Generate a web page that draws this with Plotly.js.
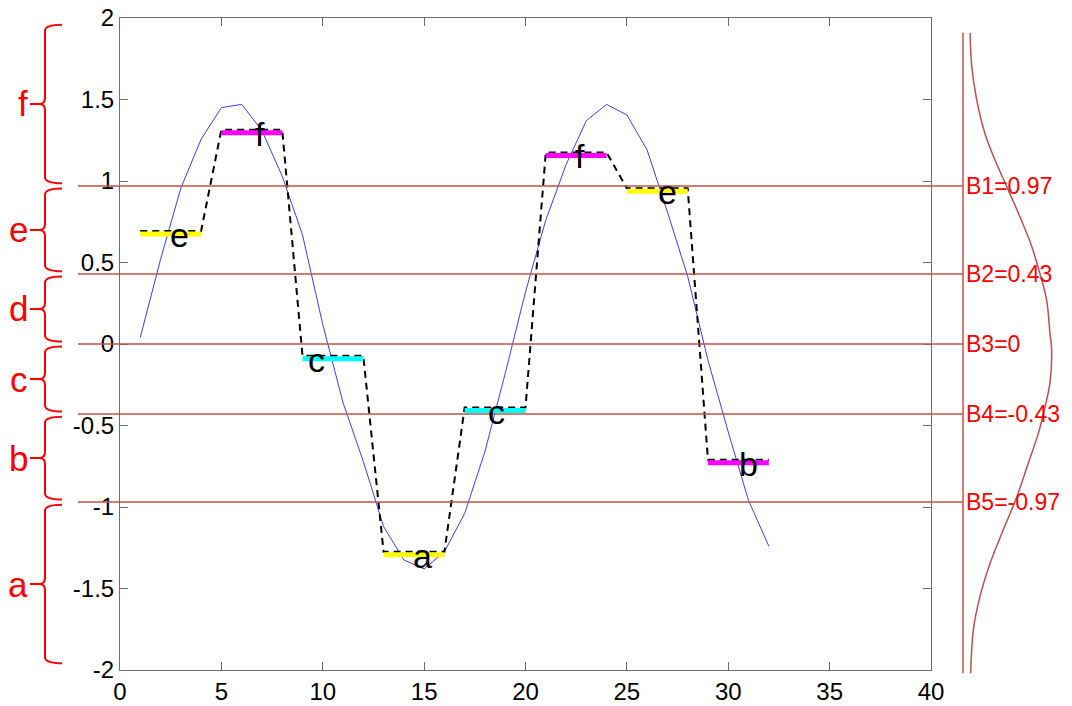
<!DOCTYPE html>
<html>
<head>
<meta charset="utf-8">
<script src="https://cdn.plot.ly/plotly-3.0.1.min.js"></script>
<style>
  html, body { margin: 0; padding: 0; background: #ffffff; }
  #chart { width: 1072px; height: 706px; }
</style>
</head>
<body>
<div id="chart"></div>
<script>
// Time series and its SAX discretisation (segment length 4, alphabet size 6)
const timeIndex = [1, 2, 3, 4, 5, 6, 7, 8, 9, 10, 11, 12, 13, 14, 15, 16,
                   17, 18, 19, 20, 21, 22, 23, 24, 25, 26, 27, 28, 29, 30, 31, 32];
const seriesValues = [0.04, 0.52, 0.956, 1.256, 1.45, 1.47, 1.31, 1.03,
                      0.67, 0.12, -0.36, -0.72, -1.12, -1.325, -1.38, -1.274,
                      -1.04, -0.66, -0.18, 0.32, 0.76, 1.10, 1.37, 1.47,
                      1.405, 1.19, 0.81, 0.415, -0.10, -0.54, -0.96, -1.24];
const paaValues = [0.693, 1.315, -0.0725, -1.275, -0.39, 1.175, 0.955, -0.71];
const segmentLength = 4;
const breakpoints = [0.97, 0.43, 0, -0.43, -0.97];
const alphabet = ['a', 'b', 'c', 'd', 'e', 'f'];
const outerBound = 1.975;
const symbolColors = { a: '#ffff00', b: '#ff00ff', c: '#00ffff', d: '#ff0000', e: '#ffff00', f: '#ff00ff' };
const labelNudge = [0.45, 0.4, -0.8, 0.4, 0.08, 0.2, 0.5, 0.5];

const xTickValues = [0, 5, 10, 15, 20, 25, 30, 35, 40];
const xTickLabels = ['0', '5', '10', '15', '20', '25', '30', '35', '40'];
const yTickValues = [-2, -1.5, -1, -0.5, 0, 0.5, 1, 1.5, 2];
const yTickLabels = ['-2', '-1.5', '-1', '-0.5', '0', '0.5', '1', '1.5', '2'];

// Standard normal density sketched beside the axes (density on x, value on y)
const gaussY = [1.91, 1.70, 1.50, 1.29, 1.13, 0.965, 0.78, 0.60, 0.43, 0.27, 0.07,
                -0.04, -0.24, -0.385, -0.55, -0.73, -0.94, -1.14, -1.345, -1.55, -1.755, -2.02];
const gaussDensity = [0.032, 0.040, 0.062, 0.100, 0.145, 0.199, 0.259, 0.312, 0.350, 0.380, 0.395,
                      0.403, 0.395, 0.373, 0.342, 0.297, 0.244, 0.183, 0.123, 0.077, 0.047, 0.035];

// ---- page geometry (pixels) ----
const W = 1072, H = 706;
const px = p => p / W;           // horizontal pixel -> paper fraction
const pyFrac = p => 1 - p / H;   // vertical pixel -> paper fraction
const unitPx = 163;              // pixels per value unit on the y axis
const barDrop = 3 / unitPx;      // symbol bars sit just under the dashed PAA line

const FONT = 'Arial, "Liberation Sans", Helvetica, sans-serif';
const RED = '#ff0000';
const LINE_RED = '#c0504d';

function symbolFor(v) {
  const asc = breakpoints.slice().sort((a, b) => a - b);
  let k = 0;
  asc.forEach(b => { if (v > b) k++; });
  return alphabet[k];
}

const traces = [];
const annotations = [];
const shapes = [];

// coloured symbol bars (drawn on an overlay axis nudged a few pixels down)
paaValues.forEach((v, i) => {
  const x0 = timeIndex[i * segmentLength];
  const x1 = timeIndex[i * segmentLength + segmentLength - 1];
  const s = symbolFor(v);
  traces.push({
    x: [x0, x1], y: [v, v], yaxis: 'y3', mode: 'lines', hoverinfo: 'skip', showlegend: false,
    line: { color: symbolColors[s], width: 5 }
  });
  annotations.push({
    x: (x0 + x1) / 2 + labelNudge[i], y: v, xref: 'x', yref: 'y',
    text: s, showarrow: false, xanchor: 'center', yanchor: 'middle', yshift: -4,
    font: { family: FONT, size: 34, color: '#000000' }
  });
});

// raw series
traces.push({
  x: timeIndex, y: seriesValues, mode: 'lines', hoverinfo: 'skip', showlegend: false,
  line: { color: 'rgb(60,60,255)', width: 1 }
});

// PAA staircase
const paaX = [], paaY = [];
paaValues.forEach((v, i) => {
  paaX.push(timeIndex[i * segmentLength], timeIndex[i * segmentLength + segmentLength - 1]);
  paaY.push(v, v);
});
traces.push({
  x: paaX, y: paaY, mode: 'lines', hoverinfo: 'skip', showlegend: false,
  line: { color: '#000000', width: 2, dash: '7px,5px' }
});

// Gaussian density on its own side panel
traces.push({
  x: gaussDensity, y: gaussY, xaxis: 'x2', yaxis: 'y2', mode: 'lines',
  hoverinfo: 'skip', showlegend: false,
  line: { color: LINE_RED, width: 1.5, shape: 'spline', smoothing: 1 }
});

// breakpoint lines and their labels
breakpoints.forEach((b, i) => {
  shapes.push({
    type: 'line', xref: 'paper', yref: 'y', x0: px(78), x1: px(963), y0: b, y1: b,
    line: { color: LINE_RED, width: 1.5 }, layer: 'above'
  });
  annotations.push({
    x: px(964), y: b, xref: 'paper', yref: 'y', text: 'B' + (i + 1) + '=' + String(b),
    showarrow: false, xanchor: 'left', yanchor: 'middle',
    font: { family: FONT, size: 23, color: RED }
  });
});

// vertical base line of the density panel
shapes.push({
  type: 'line', xref: 'x2', yref: 'y2', x0: 0, x1: 0,
  y0: gaussY[0], y1: gaussY[gaussY.length - 1],
  line: { color: LINE_RED, width: 1.5 }
});

// curly braces marking the region of each symbol
const edges = [outerBound].concat(breakpoints, [-outerBound]);
const gap = 0.016;
const r = 6 / unitPx;
const xt = px(62), xs = px(45), xc = px(39), xstem = px(30);
for (let i = 0; i < edges.length - 1; i++) {
  const yTop = edges[i] - gap;
  const yBot = edges[i + 1] + gap;
  const ym = (edges[i] + edges[i + 1]) / 2;
  const path =
    `M ${xt},${yTop} Q ${xs},${yTop} ${xs},${yTop - r} ` +
    `L ${xs},${ym + r} Q ${xs},${ym} ${xc},${ym} ` +
    `Q ${xs},${ym} ${xs},${ym - r} ` +
    `L ${xs},${yBot + r} Q ${xs},${yBot} ${xt},${yBot} ` +
    `M ${xc},${ym} L ${xstem},${ym}`;
  shapes.push({ type: 'path', xref: 'paper', yref: 'y', path: path,
                line: { color: RED, width: 2 } });
  annotations.push({
    x: px(30), y: ym, xref: 'paper', yref: 'y', text: alphabet[alphabet.length - 1 - i],
    showarrow: false, xanchor: 'right', yanchor: 'middle',
    font: { family: FONT, size: 35, color: RED }
  });
}

const axisColor = 'rgb(110,110,110)';
const mainYDomain = [pyFrac(670), pyFrac(18)];
const layout = {
  width: W, height: H,
  margin: { l: 0, r: 0, t: 0, b: 0, pad: 0 },
  paper_bgcolor: '#ffffff', plot_bgcolor: '#ffffff',
  showlegend: false,
  font: { family: FONT, color: '#000000' },
  xaxis: {
    domain: [px(120), px(931)], range: [0, 40], anchor: 'y',
    tickmode: 'array', tickvals: xTickValues, ticktext: xTickLabels,
    ticks: 'inside', ticklen: 8, tickcolor: axisColor, tickwidth: 1,
    showline: true, linecolor: axisColor, linewidth: 1, mirror: 'ticks',
    showgrid: false, zeroline: false, automargin: false,
    tickfont: { family: FONT, size: 24, color: '#000000' }
  },
  yaxis: {
    domain: mainYDomain, range: [-2, 2], anchor: 'x',
    tickmode: 'array', tickvals: yTickValues, ticktext: yTickLabels,
    ticks: 'inside', ticklen: 8, tickcolor: axisColor, tickwidth: 1,
    showline: true, linecolor: axisColor, linewidth: 1, mirror: 'ticks',
    showgrid: false, zeroline: false, automargin: false,
    tickfont: { family: FONT, size: 24, color: '#000000' }
  },
  yaxis3: {
    domain: mainYDomain, range: [-2 + barDrop, 2 + barDrop], overlaying: 'y', anchor: 'x',
    visible: false, showgrid: false, zeroline: false
  },
  xaxis2: {
    domain: [px(958), px(1066)], range: [-5 / 220, 103 / 220], anchor: 'y2',
    visible: false, showgrid: false, zeroline: false
  },
  yaxis2: {
    domain: [pyFrac(690), pyFrac(2)], range: [(344 - 690) / unitPx, (344 - 2) / unitPx], anchor: 'x2',
    visible: false, showgrid: false, zeroline: false
  },
  shapes: shapes,
  annotations: annotations
};

Plotly.newPlot('chart', traces, layout, { staticPlot: true, displayModeBar: false });
</script>
</body>
</html>
